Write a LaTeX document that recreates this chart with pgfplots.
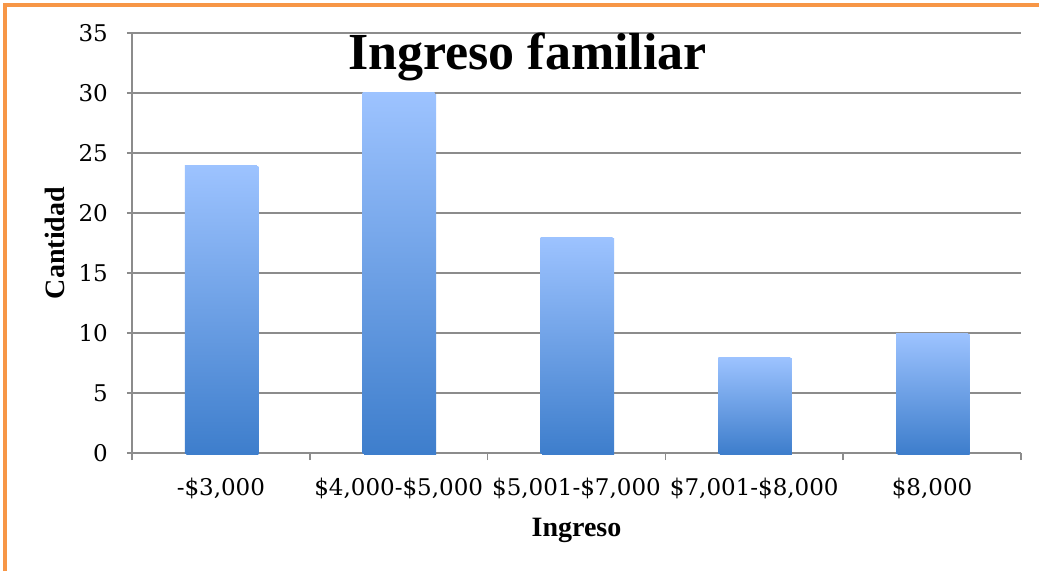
\documentclass[border=0pt]{standalone}
\usepackage{pgfplots}
\pgfplotsset{compat=1.18}
\usepackage{fontspec}
\setmainfont{Liberation Serif}
\newfontfamily\tickfont{DejaVu Serif}
\definecolor{orangeb}{RGB}{247,150,70}
\definecolor{gridc}{RGB}{140,140,140}
\definecolor{bartop}{RGB}{157,195,255}
\definecolor{barbot}{RGB}{62,126,204}
\pgfplotsset{gbar/.style={draw=none, bar shift=0pt, top color=bartop, bottom color=barbot,
  preaction={fill=black!12, transform canvas={xshift=1.5pt, yshift=-1.5pt}}}}
\begin{document}
\begin{tikzpicture}[x=1pt,y=1pt]
\useasboundingbox (0,0) rectangle (1039,571);
\fill[white] (0,0) rectangle (1039,571);
\begin{axis}[
  at={(132pt,118pt)}, anchor=south west,
  scale only axis, width=889pt, height=420pt,
  ybar, bar width=72pt,
  xmin=-0.5, xmax=4.5, ymin=0, ymax=35,
  ytick={0,5,...,35},
  xtick={0,1,2,3,4},
  xticklabels={{-\$3,000},{\$4,000-\$5,000},{\$5,001-\$7,000},{\$7,001-\$8,000},{\$8,000}},
  minor xtick={-0.5,0.5,1.5,2.5,3.5,4.5},
  axis x line*=bottom, axis y line*=left,
  axis line style={gridc, line width=1.5pt},
  ymajorgrids, major grid style={gridc, line width=1.5pt},
  tick align=outside,
  major tick length=5pt, minor tick length=7pt,
  every tick/.style={gridc, line width=1.5pt},
  major x tick style={draw=none},
  /pgf/number format/assume math mode=true,
  ticklabel style={font=\tickfont\fontsize{23}{27}\selectfont, text=black},
  yticklabel style={inner sep=0pt, xshift=-19pt},
  xticklabel style={inner sep=0pt, yshift=-20pt},
  xlabel={Ingreso}, ylabel={Cantidad},
  label style={font=\bfseries\fontsize{28}{33}\selectfont},
  xlabel style={at={(axis description cs:0.5,-0.185)}, anchor=center},
  ylabel style={at={(axis description cs:-0.087,0.5)}, anchor=center},
  clip=false,
]
\addplot[gbar] coordinates {(0,24)};
\addplot[gbar] coordinates {(1,30)};
\addplot[gbar] coordinates {(2,18)};
\addplot[gbar] coordinates {(3,8)};
\addplot[gbar] coordinates {(4,10)};
\node[font=\bfseries\fontsize{52}{62}\selectfont] at (rel axis cs:0.445,0.943) {Ingreso familiar};
\end{axis}
\draw[orangeb, line width=4pt] (5.3,0) -- (5.3,565.5) -- (1039,565.5);
\end{tikzpicture}
\end{document}
